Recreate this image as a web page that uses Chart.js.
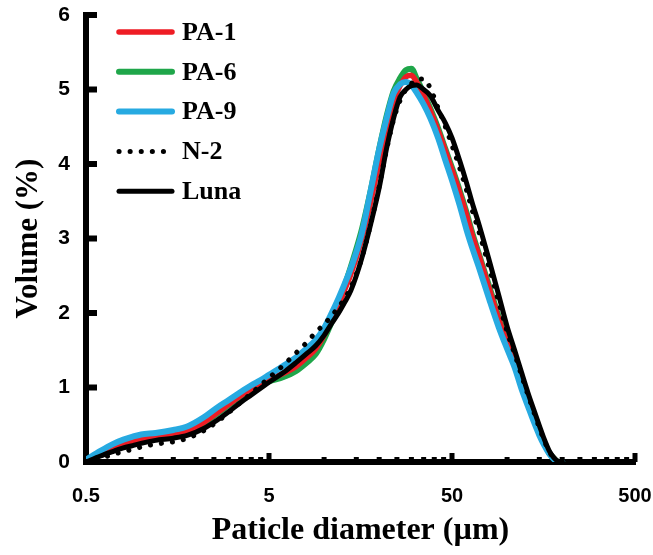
<!DOCTYPE html>
<html><head><meta charset="utf-8">
<script src="https://cdn.jsdelivr.net/npm/chart.js@4.4.0/dist/chart.umd.min.js"></script>
<style>html,body{margin:0;padding:0;background:#fff}</style>
</head><body>
<canvas id="c" width="653" height="555"></canvas>
<script>
// Particle diameter (µm)
const diameters = [0.5,0.6,0.7,0.8,0.9,1,1.2,1.5,1.8,2.2,2.6,3,3.5,4,4.5,5,6,7,8,9,10,11,12,13,14,16,18,20,22,24,26,28,30,32,35,38,42,46,50,55,60,65,70,80,90,100,110,120,130,140,150,160,170,180,190,200];
const pa1 = [0.02,0.12,0.20,0.25,0.28,0.31,0.33,0.36,0.41,0.53,0.66,0.77,0.89,0.98,1.05,1.11,1.19,1.28,1.40,1.52,1.70,1.90,2.10,2.32,2.52,2.98,3.50,4.03,4.48,4.85,5.05,5.17,5.19,5.10,4.92,4.72,4.45,4.18,3.92,3.62,3.32,3.02,2.78,2.32,1.92,1.60,1.32,1.03,0.79,0.57,0.39,0.24,0.12,0.05,0,0];
const pa6 = [0.02,0.11,0.19,0.24,0.27,0.30,0.32,0.35,0.40,0.52,0.65,0.76,0.88,0.97,1.03,1.08,1.14,1.22,1.33,1.45,1.65,1.88,2.12,2.38,2.62,3.10,3.65,4.20,4.65,4.98,5.15,5.26,5.28,5.15,4.95,4.75,4.48,4.20,3.95,3.65,3.35,3.05,2.80,2.35,1.95,1.62,1.34,1.05,0.80,0.58,0.40,0.25,0.12,0.05,0,0];
const pa9 = [0.03,0.15,0.24,0.30,0.34,0.37,0.39,0.43,0.48,0.60,0.73,0.83,0.94,1.03,1.10,1.17,1.29,1.40,1.52,1.64,1.80,2.00,2.20,2.40,2.60,3.05,3.65,4.20,4.62,4.95,5.07,5.10,5.06,4.96,4.80,4.62,4.35,4.05,3.78,3.45,3.12,2.85,2.62,2.18,1.81,1.52,1.27,0.98,0.75,0.54,0.36,0.22,0.11,0.04,0,0];
const n2 = [0,0.05,0.10,0.14,0.17,0.20,0.24,0.27,0.32,0.42,0.54,0.66,0.80,0.92,1.03,1.13,1.30,1.46,1.60,1.74,1.85,1.96,2.08,2.20,2.34,2.72,3.20,3.70,4.20,4.60,4.85,5.00,5.08,5.14,5.14,5.02,4.75,4.50,4.25,3.95,3.65,3.35,3.10,2.60,2.15,1.75,1.45,1.16,0.90,0.67,0.46,0.28,0.14,0.05,0.01,0];
const luna = [0,0.08,0.14,0.19,0.22,0.25,0.29,0.32,0.36,0.45,0.56,0.67,0.80,0.90,0.99,1.07,1.20,1.33,1.45,1.56,1.70,1.86,2.00,2.15,2.30,2.72,3.20,3.68,4.22,4.62,4.90,5.00,5.05,5.06,5.00,4.92,4.72,4.55,4.35,4.05,3.75,3.45,3.20,2.70,2.24,1.82,1.50,1.20,0.93,0.70,0.49,0.30,0.15,0.06,0.01,0];

const seriesNames = ['PA-1','PA-6','PA-9','N-2','Luna'];
const xTickValues = [0.5,1,1.5,2,2.5,3,3.5,4,4.5,5,10,15,20,25,30,35,40,45,50,100,150,200,250,300,350,400,450,500];
const xLabelValues = [0.5,5,50,500];
const yTickValues = [0,1,2,3,4,5,6];

const pts = arr => diameters.map((d,i)=>({x:d,y:arr[i]}));

const styles = {
  'PA-1': {color:'#ee1c24', width:5.5, dash:[], order:3},
  'PA-6': {color:'#1fa64a', width:6, dash:[], order:4},
  'PA-9': {color:'#27aae1', width:6, dash:[], order:2},
  'N-2':  {color:'#000000', width:5, dash:[0.1,11], order:0},
  'Luna': {color:'#000000', width:5, dash:[], order:1}
};
const seriesData = {'PA-1':pa1,'PA-6':pa6,'PA-9':pa9,'N-2':n2,'Luna':luna};

const datasets = seriesNames.map(n=>({
  label:n, data:pts(seriesData[n]),
  borderColor:styles[n].color, borderWidth:styles[n].width, borderDash:styles[n].dash,
  borderCapStyle:'round', borderJoinStyle:'round',
  pointRadius:0, fill:false, cubicInterpolationMode:'monotone', order:styles[n].order
}));

const inTicks = {
  id:'inTicks',
  afterDraw(chart){
    const {ctx, chartArea, scales:{x,y}} = chart;
    ctx.save(); ctx.fillStyle='#000';
    x.ticks.forEach(t=>{
      if (t.value===0.5) return;
      const px = x.getPixelForValue(t.value);
      const len = xLabelValues.includes(t.value) ? 9 : 5;
      ctx.fillRect(px-2.5, chartArea.bottom-len, 5, len);
    });
    y.ticks.forEach(t=>{
      const py = y.getPixelForValue(t.value);
      ctx.fillRect(chartArea.left, py-3, 11, 6);
    });
    ctx.restore();
  }
};

const legendBox = {
  id:'legendBox',
  afterDraw(chart){
    const ctx = chart.ctx;
    ctx.save();
    const x0 = 119, x1 = 172, tx = 182, y0 = 32, dy = 39.8;
    seriesNames.forEach((n,i)=>{
      const s = styles[n];
      const yy = y0 + i*dy;
      ctx.beginPath();
      ctx.strokeStyle = s.color; ctx.lineWidth = s.width; ctx.lineCap='round';
      ctx.setLineDash(s.dash.length ? s.dash : []);
      ctx.moveTo(x0, yy); ctx.lineTo(x1, yy); ctx.stroke();
      ctx.setLineDash([]);
      ctx.fillStyle='#000'; ctx.font='bold 26px "Liberation Serif"';
      ctx.textBaseline='middle'; ctx.textAlign='left';
      ctx.fillText(n, tx, yy+1);
    });
    ctx.restore();
  }
};

new Chart(document.getElementById('c'), {
  type:'line',
  data:{datasets},
  options:{
    responsive:false, animation:false,
    layout:{padding:{top:15,right:18,bottom:0,left:0}},
    plugins:{legend:{display:false}, tooltip:{enabled:false}},
    scales:{
      x:{
        type:'logarithmic', min:0.5, max:500,
        afterBuildTicks: s => { s.ticks = xTickValues.map(v=>({value:v})); },
        ticks:{autoSkip:false, maxRotation:0, padding:22, color:'#000',
          font:{family:'Liberation Sans', weight:'bold', size:20},
          callback:(v)=> xLabelValues.includes(v) ? String(v) : ''},
        grid:{display:false, drawTicks:false},
        border:{display:true, color:'#000', width:6},
        title:{display:true, text:'Paticle diameter (µm)', color:'#000',
          font:{family:'Liberation Serif', weight:'bold', size:32}, padding:{top:0,bottom:5}},
        afterFit: s => { s.height = 93; s.paddingLeft = 0; s.paddingRight = 0; }
      },
      y:{
        min:0, max:6,
        afterBuildTicks: s => { s.ticks = yTickValues.map(v=>({value:v})); },
        ticks:{padding:16, color:'#000', font:{family:'Liberation Sans', weight:'bold', size:21},
          callback:(v)=> String(v)},
        grid:{display:false, drawTicks:false},
        border:{display:true, color:'#000', width:6},
        title:{display:true, text:'Volume (%)', color:'#000',
          font:{family:'Liberation Serif', weight:'bold', size:31}, padding:{top:10,bottom:0}},
        afterFit: s => { s.width = 86; s.paddingTop = 0; s.paddingBottom = 0; }
      }
    }
  },
  plugins:[inTicks, legendBox]
});
</script>
</body></html>
